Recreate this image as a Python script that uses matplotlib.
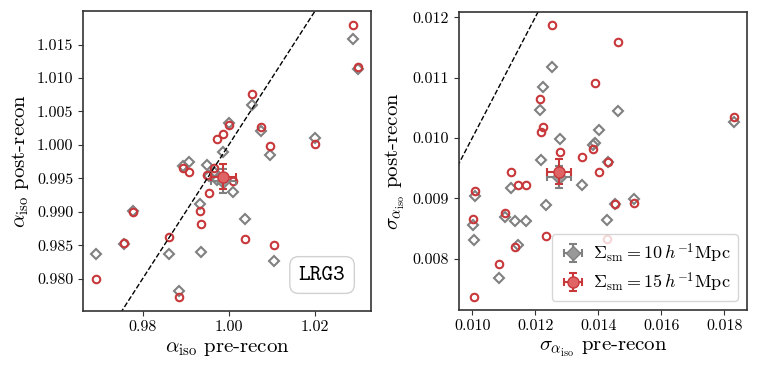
import matplotlib
matplotlib.use('Agg')
import matplotlib.pyplot as plt
import numpy as np

plt.rcParams['font.family'] = 'serif'
plt.rcParams['font.serif'] = ['cmr10']
plt.rcParams['mathtext.fontset'] = 'cm'
plt.rcParams['axes.formatter.use_mathtext'] = True
plt.rcParams['axes.unicode_minus'] = False

# alpha_iso: pre-recon (shared), post-recon for the two smoothing scales
alpha_pre = [1.0288, 1.0299, 1.0055, 1.0075, 1.0000, 0.99864, 0.99725, 1.0095, 1.0200,
             0.98944, 0.99075, 0.99493, 0.99647, 1.0010, 0.99547, 0.99338, 0.99361,
             0.97791, 0.98611, 0.97582, 1.00382, 1.0104, 0.96925, 0.98835]
alpha_post_15 = [1.0179, 1.0117, 1.0076, 1.0027, 1.0030, 1.00166, 1.00087, 0.99992, 1.0002,
                 0.99663, 0.99599, 0.99554, 0.99653, 0.99464, 0.9928, 0.99016, 0.98817,
                 0.99006, 0.98623, 0.98543, 0.98593, 0.98508, 0.9800, 0.97726]
alpha_post_10 = [1.0159, 1.0113, 1.0060, 1.0021, 1.0033, 0.99902, 0.99479, 0.99853, 1.0011,
                 0.99688, 0.99743, 0.99708, 0.99603, 0.9930, 0.9953, 0.99116, 0.98398,
                 0.99016, 0.98373, 0.98518, 0.98901, 0.98274, 0.98369, 0.97826]

# sigma_alpha_iso: pre-recon (shared), post-recon for the two smoothing scales
sigma_pre = [0.012529, 0.014614, 0.013884, 0.012159, 0.012243, 0.012169, 0.018307, 0.012772,
             0.013482, 0.013841, 0.014307, 0.014032, 0.011228, 0.011450, 0.011704, 0.010085,
             0.014540, 0.015132, 0.010011, 0.011026, 0.012339, 0.014265, 0.011354, 0.010847,
             0.010063]
sigma_post_15 = [0.011873, 0.011597, 0.010906, 0.010641, 0.010188, 0.010100, 0.010343, 0.009774,
                 0.009691, 0.009823, 0.009602, 0.009442, 0.009437, 0.009216, 0.009216, 0.009127,
                 0.008906, 0.008923, 0.008652, 0.008751, 0.008381, 0.008320, 0.008193, 0.007906,
                 0.007370]
sigma_post_10 = [0.011171, 0.010453, 0.009923, 0.010464, 0.010840, 0.009641, 0.010260, 0.009984,
                 0.009216, 0.009880, 0.009597, 0.010133, 0.009166, 0.008221, 0.008624, 0.009044,
                 0.008906, 0.008989, 0.008553, 0.008696, 0.008895, 0.008646, 0.008624, 0.007685,
                 0.008309]

# mean points and their errors
alpha_mean_pre = 0.9987
alpha_mean_post = {'10': 0.99464, '15': 0.99527}
alpha_err_pre = 0.0029
alpha_err_post = {'10': 0.0018, '15': 0.0019}
sigma_mean_pre = 0.012762
sigma_mean_post = {'10': 0.00936, '15': 0.009443}
sigma_err_pre = 0.00038
sigma_err_post = {'10': 0.00018, '15': 0.00021}

red = '#c8373a'
grey = '#808080'

fig = plt.figure(figsize=(7.58, 3.74), dpi=100)
ax1 = fig.add_axes([0.1095, 0.1684, 0.380, 0.802])
ax2 = fig.add_axes([0.6055, 0.1711, 0.380, 0.797])


def draw(ax, xpre, y10, y15, xm, ym, xerr, yerr):
    ax.plot(xpre, y10, ls='none', marker='D', ms=5, mfc='none', mec=grey, mew=1.5)
    ax.plot(xpre, y15, ls='none', marker='o', ms=5.4, mfc='none', mec=red, mew=1.5)
    ax.errorbar(xm, ym['10'], xerr=xerr, yerr=yerr['10'], fmt='D', ms=7, color=grey,
                mfc='#999999', mec=grey, elinewidth=1.5, capsize=3, capthick=1.5,
                label=r'$\Sigma_{\rm sm} = 10\,h^{-1}{\rm Mpc}$', zorder=5)
    ax.errorbar(xm, ym['15'], xerr=xerr, yerr=yerr['15'], fmt='o', ms=8, color=red,
                mfc='#e06466', mec=red, elinewidth=1.5, capsize=3, capthick=1.5,
                label=r'$\Sigma_{\rm sm} = 15\,h^{-1}{\rm Mpc}$', zorder=6)
    lims = [min(ax.get_xlim()[0], ax.get_ylim()[0]) - 1, max(ax.get_xlim()[1], ax.get_ylim()[1]) + 1]
    ax.plot(lims, lims, 'k--', lw=1)
    for s in ax.spines.values():
        s.set_color('#333333')
        s.set_linewidth(1.2)
    ax.tick_params(labelsize=11.5, color='#333333')


draw(ax1, alpha_pre, alpha_post_10, alpha_post_15, alpha_mean_pre, alpha_mean_post,
     alpha_err_pre, alpha_err_post)
ax1.set_xlim(0.9662, 1.0330)
ax1.set_ylim(0.9752, 1.0200)
ax1.set_xticks([0.98, 1.00, 1.02])
ax1.set_xticklabels(['0.98', '1.00', '1.02'])
ax1.set_yticks([0.980, 0.985, 0.990, 0.995, 1.000, 1.005, 1.010, 1.015])
ax1.set_yticklabels(['0.980', '0.985', '0.990', '0.995', '1.000', '1.005', '1.010', '1.015'])
ax1.set_xlabel(r'$\alpha_{\rm iso}$ pre-recon', fontsize=15)
ax1.set_ylabel(r'$\alpha_{\rm iso}$ post-recon', fontsize=15)
ax1.text(0.83, 0.12, 'LRG3', transform=ax1.transAxes, ha='center', va='center',
         fontsize=16, family='cmtt10',
         bbox=dict(boxstyle='round,pad=0.4', fc='white', ec='#cccccc', alpha=0.9))

draw(ax2, sigma_pre, sigma_post_10, sigma_post_15, sigma_mean_pre, sigma_mean_post,
     sigma_err_pre, sigma_err_post)
ax2.set_xlim(0.00958, 0.01872)
ax2.set_ylim(0.00715, 0.01209)
ax2.set_xticks([0.010, 0.012, 0.014, 0.016, 0.018])
ax2.set_xticklabels(['0.010', '0.012', '0.014', '0.016', '0.018'])
ax2.set_yticks([0.008, 0.009, 0.010, 0.011, 0.012])
ax2.set_yticklabels(['0.008', '0.009', '0.010', '0.011', '0.012'])
ax2.set_xlabel(r'$\sigma_{\alpha_{\rm iso}}$ pre-recon', fontsize=15)
ax2.set_ylabel(r'$\sigma_{\alpha_{\rm iso}}$ post-recon', fontsize=15)
ax2.legend(loc='lower right', fontsize=13, framealpha=0.8, handletextpad=0.3,
           borderpad=0.4, labelspacing=0.3, handlelength=1.6)

fig.savefig('out.png', dpi=100)
